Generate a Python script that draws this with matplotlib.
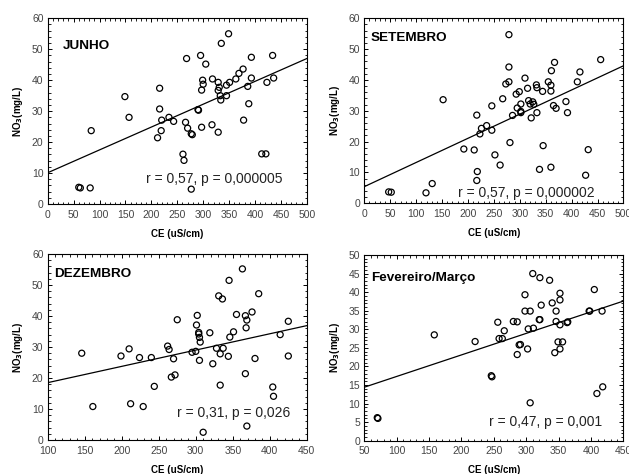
import matplotlib.pyplot as plt
from matplotlib.ticker import AutoMinorLocator, MultipleLocator

plt.rcParams['font.family'] = ['Liberation Sans', 'DejaVu Sans']

# JUNHO
jun_ce = [60, 63, 82, 84, 149, 157, 212, 216, 216, 219, 220, 234, 243, 268, 266,
          270, 277, 279, 261, 263, 277, 295, 305, 299, 300, 297, 290, 291, 297,
          318, 317, 329, 329, 331, 333, 334, 329, 335, 349, 351, 345, 345, 363,
          369, 377, 393, 393, 386, 388, 378, 413, 421, 434, 423, 436]
jun_no3 = [5.4, 5.2, 5.2, 23.7, 34.7, 28.0, 21.4, 37.4, 30.7, 23.7, 27.1, 28.0,
           26.7, 47.0, 26.4, 24.5, 22.7, 22.4, 16.1, 14.1, 4.8, 48.0, 45.2, 40.0,
           38.7, 36.8, 30.5, 30.3, 24.8, 40.4, 25.6, 39.3, 36.7, 37.7, 35.0, 33.6,
           23.2, 51.9, 55.0, 39.3, 38.4, 35.0, 40.4, 42.2, 43.6, 47.4, 40.7, 38.0,
           32.4, 27.1, 16.2, 16.2, 48.0, 39.3, 40.7]

# SETEMBRO
set_ce = [47, 52, 119, 131, 152, 192, 212, 217, 218, 217, 223, 226, 236, 246,
          246, 252, 262, 267, 273, 279, 279, 279, 281, 286, 293, 299, 295, 302,
          302, 302, 310, 315, 317, 320, 325, 327, 322, 332, 333, 333, 344, 345,
          338, 355, 361, 360, 360, 365, 370, 367, 360, 389, 392, 411, 416, 432,
          427, 456]
set_no3 = [3.7, 3.6, 3.4, 6.4, 33.6, 17.6, 17.3, 28.6, 10.3, 7.4, 22.5, 24.3,
           25.2, 23.7, 31.6, 15.7, 12.4, 33.9, 38.7, 39.4, 44.2, 54.7, 19.7, 28.5,
           35.4, 36.2, 30.9, 32.2, 29.8, 29.4, 40.6, 37.3, 33.3, 32.2, 32.9, 32.1,
           27.7, 38.4, 37.5, 29.4, 36.3, 18.7, 11.0, 39.4, 43.0, 38.3, 36.4, 31.7,
           30.8, 45.7, 11.7, 33.0, 29.4, 39.4, 42.6, 17.4, 9.1, 46.6]

# DEZEMBRO
dez_ce = [146, 161, 199, 210, 212, 224, 229, 240, 244, 262, 264, 267, 272, 270,
          275, 295, 300, 301, 302, 304, 304, 305, 306, 305, 310, 319, 323, 328,
          331, 336, 337, 333, 333, 345, 346, 344, 351, 355, 363, 367, 368, 369,
          376, 367, 369, 380, 385, 404, 405, 414, 425, 425]
dez_no3 = [28.0, 10.8, 27.1, 29.4, 11.7, 26.6, 10.8, 26.6, 17.3, 30.3, 29.2, 20.3,
           21.0, 26.2, 38.8, 28.3, 28.6, 37.1, 40.2, 34.7, 34.2, 33.1, 31.6, 25.7,
           2.5, 34.6, 24.6, 29.6, 46.5, 45.5, 29.6, 27.8, 17.7, 51.5, 33.2, 27.0,
           34.9, 40.5, 55.2, 40.1, 36.2, 38.7, 41.3, 21.4, 4.5, 26.3, 47.2, 17.1,
           14.1, 34.0, 38.3, 27.1]

# Fevereiro/Marco
fev_ce = [70, 71, 158, 221, 246, 247, 256, 258, 263, 266, 286, 289, 291, 280,
          286, 298, 298, 306, 303, 311, 302, 306, 310, 321, 323, 320, 321, 336,
          340, 346, 346, 344, 349, 352, 352, 352, 352, 356, 363, 364, 397, 398,
          405, 417, 409, 418]
fev_no3 = [6.2, 6.0, 28.5, 26.7, 17.5, 17.2, 31.9, 27.5, 27.5, 29.6, 23.2, 25.8,
           25.9, 32.1, 32.0, 39.3, 34.9, 34.9, 30.1, 30.3, 24.7, 10.2, 45.0, 43.9,
           36.5, 32.6, 32.6, 43.2, 37.1, 34.9, 32.1, 23.7, 26.6, 39.7, 37.9, 31.2,
           24.7, 26.6, 31.8, 32.0, 34.9, 34.9, 40.7, 34.9, 12.7, 14.5]

# regression lines (x range ends, y at those ends)
jun_fit = ([0, 500], [10.1, 47.0])
set_fit = ([0, 500], [5.4, 44.6])
dez_fit = ([100, 450], [18.5, 36.9])
fev_fit = ([50, 450], [14.4, 37.6])

# title, x, y, fit, stat text, x ticks, y ticks, axes rect, title pos, stat pos
panels = [
    ('JUNHO', jun_ce, jun_no3, jun_fit, 'r = 0,57, p = 0,000005',
     (0, 500, 50), (0, 60, 10), [0.0758, 0.5696, 0.412, 0.3918],
     (0.058, 0.851), (0.908, 0.135)),
    ('SETEMBRO', set_ce, set_no3, set_fit, 'r = 0,57, p = 0,000002',
     (0, 500, 50), (0, 60, 10), [0.5792, 0.5711, 0.412, 0.3903],
     (0.026, 0.895), (0.89, 0.057)),
    ('DEZEMBRO', dez_ce, dez_no3, dez_fit, 'r = 0,31, p = 0,026',
     (100, 450, 50), (0, 60, 10), [0.0758, 0.0717, 0.412, 0.3924],
     (0.026, 0.892), (0.935, 0.147)),
    ('Fevereiro/Março', fev_ce, fev_no3, fev_fit, 'r = 0,47, p = 0,001',
     (50, 450, 50), (0, 50, 5), [0.5792, 0.0703, 0.412, 0.3917],
     (0.026, 0.875), (0.919, 0.099)),
]


def main():
    fig = plt.figure(figsize=(6.29, 4.74), dpi=100)
    for title, xs, ys, fit, stat, xr, yr, pos, tpos, spos in panels:
        ax = fig.add_axes(pos)
        ax.plot(fit[0], fit[1], color='black', lw=0.9, zorder=2)
        ax.scatter(xs, ys, s=19, facecolors='none', edgecolors='black',
                   linewidths=0.9, zorder=3)
        ax.set_xlim(xr[0], xr[1])
        ax.set_ylim(yr[0], yr[1])
        ax.xaxis.set_major_locator(MultipleLocator(xr[2]))
        ax.yaxis.set_major_locator(MultipleLocator(yr[2]))
        ax.xaxis.set_minor_locator(AutoMinorLocator(5))
        ax.yaxis.set_minor_locator(AutoMinorLocator(5))
        ax.tick_params(which='both', direction='in', top=True, right=True,
                       labelsize=7.5, labelcolor='#444444', pad=3)
        ax.tick_params(axis='x', which='major', pad=4)
        ax.tick_params(which='major', length=3, width=0.7)
        ax.tick_params(which='minor', length=1.8, width=0.6)
        for sp in ax.spines.values():
            sp.set_linewidth(0.8)
        ax.set_xlabel('CE (uS/cm)', fontsize=7, fontweight='bold', labelpad=6.5)
        ax.set_ylabel('NO$_\\mathbf{3}$(mg/L)', fontsize=7,
                      fontweight='bold', labelpad=5)
        ax.text(tpos[0], tpos[1], title, transform=ax.transAxes, fontsize=9.7,
                fontweight='bold', va='center')
        ax.text(spos[0], spos[1], stat, transform=ax.transAxes, fontsize=10,
                ha='right', va='center', color='#222222')
    fig.savefig('out.png', dpi=100)


if __name__ == "__main__":
    main()
